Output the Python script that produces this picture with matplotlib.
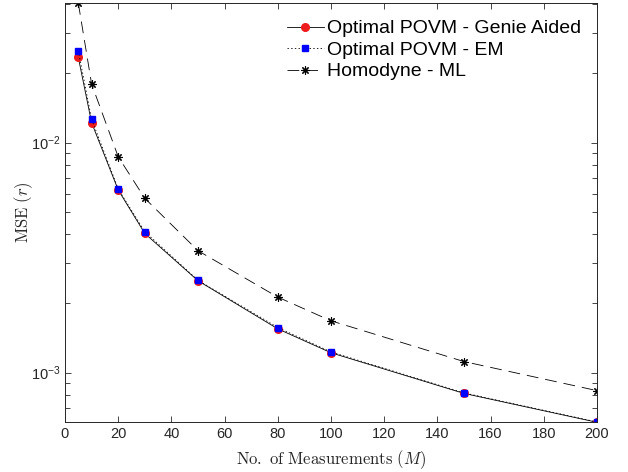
import numpy as np
import matplotlib
matplotlib.use("Agg")
import matplotlib.pyplot as plt

plt.rcParams['font.family'] = ['Liberation Sans', 'DejaVu Sans']
plt.rcParams['mathtext.fontset'] = 'cm'
plt.rcParams['lines.scale_dashes'] = False

# donnees
M = [5, 10, 20, 30, 50, 80, 100, 150, 200]
mse_genie = [0.0235, 0.01222, 6.23e-3, 4.03e-3, 2.51e-3, 1.55e-3, 1.22e-3, 8.12e-4, 6.08e-4]
mse_em = [0.0251, 0.01264, 6.29e-3, 4.10e-3, 2.52e-3, 1.57e-3, 1.23e-3, 8.16e-4, 6.10e-4]
mse_homo = [0.0405, 0.0180, 8.69e-3, 5.73e-3, 3.39e-3, 2.13e-3, 1.68e-3, 1.117e-3, 8.35e-4]

fig = plt.figure(figsize=(6.28, 4.72), dpi=100)
ax = fig.add_axes([0.1035, 0.1053, 0.8471, 0.8883])

ax.plot(M, mse_genie, '-', color='k', lw=0.6, marker='o', ms=5.5,
        mfc='#ee1c1c', mec='#ee1c1c', label='Optimal POVM - Genie Aided')
ax.plot(M, mse_em, ':', color='k', lw=0.6, marker='s', ms=4.5,
        mfc='#0000ff', mec='#0000ff', label='Optimal POVM - EM')
ax.plot(M, mse_homo, color='k', lw=0.6, dashes=(8.5, 5), marker=(8, 2, 0), ms=6,
        mec='k', mew=0.8, label='Homodyne - ML')

ax.set_yscale('log')
ax.set_xlim(0, 200)
ax.set_ylim(min(mse_genie), max(mse_homo))
ax.set_xticks(np.arange(0, 201, 20))

ax.tick_params(which='both', direction='in', top=True, right=True,
               colors='#262626', labelsize=10.5, width=0.6)
ax.tick_params(which='major', length=4.5)
ax.tick_params(which='minor', length=3.5)
for s in ax.spines.values():
    s.set_color('#262626')
    s.set_linewidth(0.7)

ax.set_xlabel(r'$\mathrm{No.\ of\ Measurements}\ (M)$', fontsize=12, color='#262626', labelpad=5)
ax.set_ylabel(r'$\mathrm{MSE}\ (r)$', fontsize=12, color='#262626', labelpad=-3)

ax.legend(loc='upper right', frameon=False, fontsize=14, handlelength=1.9,
          handletextpad=0.15, labelspacing=0.2, borderaxespad=0.55,
          bbox_to_anchor=(1.004, 1.004))

fig.savefig('out.png', dpi=100)
